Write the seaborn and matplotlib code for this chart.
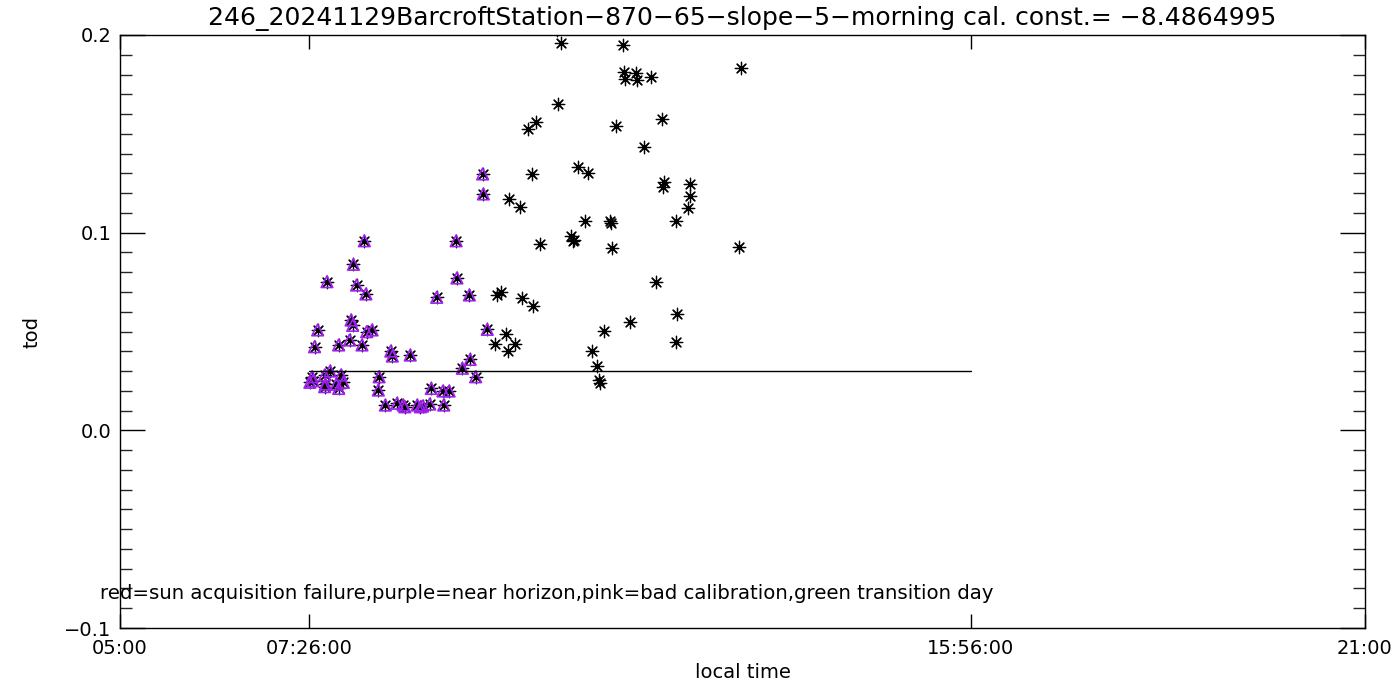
import numpy as np
import pandas as pd
import matplotlib
matplotlib.use("Agg")
import matplotlib.pyplot as plt
import seaborn as sns

# local time in decimal hours, tod values
purple_hours = [8.14, 8.00, 7.66, 8.04, 8.16, 7.97, 7.99, 7.54, 8.17, 8.24,
                7.50, 7.81, 7.95, 8.11, 8.48, 8.50, 8.73, 9.07, 9.32, 9.33,
                9.49, 9.72, 9.50, 9.40, 9.57, 7.47, 7.44, 7.48, 7.63, 7.70,
                7.84, 7.64, 7.63, 7.78, 7.81, 7.87, 8.33, 8.32, 9.00, 9.15,
                9.23, 8.41, 8.56, 8.64, 8.66, 8.82, 8.86, 8.89, 8.98, 9.16,
                9.66, 9.67]
purple_tod = [0.0959, 0.0840, 0.0752, 0.0735, 0.0690, 0.0558, 0.0531, 0.0508, 0.0499, 0.0508,
              0.0423, 0.0432, 0.0457, 0.0432, 0.0401, 0.0376, 0.0381, 0.0673, 0.0959, 0.0771,
              0.0685, 0.0511, 0.0359, 0.0314, 0.0271, 0.0271, 0.0243, 0.0251, 0.0280, 0.0300,
              0.0280, 0.0234, 0.0221, 0.0233, 0.0212, 0.0243, 0.0271, 0.0204, 0.0212, 0.0199,
              0.0199, 0.0128, 0.0137, 0.0128, 0.0119, 0.0128, 0.0119, 0.0123, 0.0133, 0.0128,
              0.1297, 0.1196]

black_hours = [10.30, 10.89, 11.01, 10.00, 10.14, 10.98, 11.30, 11.31, 10.80, 10.83,
               10.82, 10.40, 11.32, 9.84, 9.90, 10.17, 10.31, 11.22, 9.96, 9.82,
               10.07, 9.99, 11.06, 11.13, 11.15, 11.17, 10.67, 11.47, 11.48, 11.63,
               11.49, 11.65, 11.82, 12.98, 10.63, 10.34, 10.24, 11.38, 11.97, 11.73,
               11.99, 11.98, 12.33, 12.32, 12.30, 12.14, 12.96, 11.89, 12.16, 11.55,
               12.14, 10.62]
black_tod = [0.1297, 0.1334, 0.1300, 0.1170, 0.1128, 0.1059, 0.1060, 0.1047, 0.0983, 0.0963,
             0.0956, 0.0943, 0.0921, 0.0685, 0.0698, 0.0668, 0.0629, 0.0502, 0.0487, 0.0437,
             0.0437, 0.0401, 0.0401, 0.0325, 0.0254, 0.0238, 0.1958, 0.1949, 0.1814, 0.1809,
             0.1776, 0.1772, 0.1786, 0.1831, 0.1651, 0.1561, 0.1524, 0.1539, 0.1575, 0.1435,
             0.1258, 0.1232, 0.1246, 0.1187, 0.1123, 0.1059, 0.0929, 0.0749, 0.0588, 0.0546,
             0.0445, 0.2026]

# reference line (tod level between two times)
ref_level = 0.03
ref_start = 7 + 26 / 60
ref_end = 15 + 56 / 60

xtick_hours = [5, 7 + 26 / 60, 15 + 56 / 60, 21]
xtick_labels = ["05:00", "07:26:00", "15:56:00", "21:00"]
ytick_values = [-0.1, 0.0, 0.1, 0.2]
ytick_labels = ["\u22120.1", "0.0", "0.1", "0.2"]

title = "246_20241129BarcroftStation\u2212870\u221265\u2212slope\u22125\u2212morning cal. const.= \u22128.4864995"
note = "red=sun acquisition failure,purple=near horizon,pink=bad calibration,green transition day"

purple_df = pd.DataFrame({"hour": purple_hours, "tod": purple_tod})
all_df = pd.DataFrame({"hour": purple_hours + black_hours,
                       "tod": purple_tod + black_tod})
ref_df = pd.DataFrame({"hour": [ref_start, ref_end], "tod": [ref_level, ref_level]})

sns.set_style("white")
plt.rcParams['font.family'] = ['DejaVu Sans']
plt.rcParams['text.color'] = 'black'
plt.rcParams['axes.labelcolor'] = 'black'

fig = plt.figure(figsize=(14, 7), dpi=100)
ax = fig.add_axes([120 / 1400, 1 - 628 / 700, 1245 / 1400, 593 / 700])

# black asterisks for every point
sns.scatterplot(x="hour", y="tod", data=all_df, ax=ax, marker=(8, 2, 0),
                s=80, color="black", edgecolor="black", linewidth=0.9,
                legend=False)
# purple triangles marking the near-horizon points
sns.scatterplot(x="hour", y="tod", data=purple_df, ax=ax, marker="^",
                s=70, facecolor="none", edgecolor="#a020f0", linewidth=1.2,
                legend=False)
sns.lineplot(x="hour", y="tod", data=ref_df, ax=ax, color="black", linewidth=1)

ax.set_xlim(5, 21)
ax.set_ylim(-0.1, 0.2)
ax.set_xticks(xtick_hours)
ax.set_xticklabels(xtick_labels)
ax.set_yticks(ytick_values)
ax.set_yticklabels(ytick_labels)
ax.set_yticks(np.arange(-0.1, 0.2001, 0.01), minor=True)

ax.tick_params(axis="x", which="major", direction="in", length=10, width=1,
               top=True, bottom=True, labelsize=14, pad=8, colors="black")
ax.tick_params(axis="y", which="major", direction="in", length=18, width=1,
               left=True, right=True, labelsize=14, pad=6, colors="black")
ax.tick_params(axis="y", which="minor", direction="in", length=8.5, width=1,
               left=True, right=True)
for sp in ax.spines.values():
    sp.set_color("black")
    sp.set_linewidth(1)

ax.set_xlabel("local time", fontsize=14)
ax.set_ylabel("tod", fontsize=14)
ax.xaxis.set_label_coords(0.5, -35 / 593, transform=ax.transAxes)
ax.yaxis.set_label_coords(-78 / 1245, 0.5, transform=ax.transAxes)
ax.set_title(title, fontsize=18, pad=7)

ax.text(4.74, -0.0823, note, fontsize=14.2, ha="left", va="center", clip_on=False)

fig.savefig("out.png", dpi=100)
